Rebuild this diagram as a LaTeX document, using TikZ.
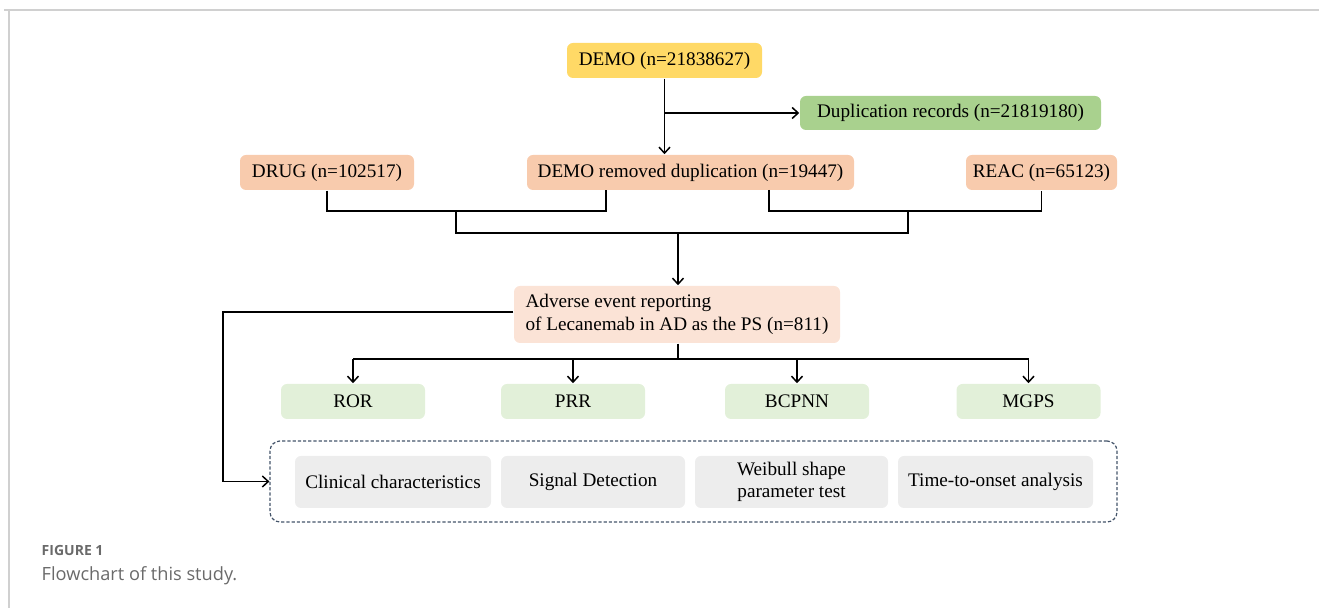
\documentclass[tikz,border=0pt]{standalone}
\usepackage{fontspec}
\setmainfont{Liberation Serif}
\newfontfamily\capfont{Open Sans}
\usetikzlibrary{positioning, arrows.meta, calc}

\definecolor{demoyellow}{HTML}{FFD966}
\definecolor{dupgreen}{HTML}{A9D18E}
\definecolor{srcpeach}{HTML}{F8CBAD}
\definecolor{aepeach}{HTML}{FBE3D6}
\definecolor{algogreen}{HTML}{E2F0D9}
\definecolor{toolgray}{HTML}{EDEDED}
\definecolor{dashblue}{HTML}{44546A}
\definecolor{framegray}{HTML}{D0D0D0}
\definecolor{capgray}{HTML}{6A6A6A}

\begin{document}
\begin{tikzpicture}[x=0.5pt,y=-0.5pt,>={Straight Barb[length=3pt,width=5.5pt]},
     line width=0.75pt,
     box/.style={rectangle, rounded corners=3pt, inner sep=0pt, align=center,
       font=\fontsize{9.6}{11.2}\selectfont},
     srcbox/.style={box, fill=srcpeach, minimum height=17.5pt},
     algobox/.style={box, fill=algogreen, minimum width=72pt, minimum height=17.5pt},
     toolbox/.style={box, fill=toolgray, minimum height=26pt}]

  \useasboundingbox (0,0) rectangle (1319,608);

  % frame of the figure
  \draw[framegray, line width=1pt] (4,10) -- (1319,10);
  \draw[framegray, line width=0.8pt] (9,10) -- (9,608);

  % data sources
  \node[box, fill=demoyellow, minimum width=97.5pt, minimum height=17.5pt] (demo) at (664.5,60.5) {DEMO (n=21838627)};
  \node[box, fill=dupgreen, minimum width=150.5pt, minimum height=17pt] (dup) at (950.5,113) {Duplication records (n=21819180)};
  \node[srcbox, minimum width=87pt] (drug) at (327,172.5) {DRUG (n=102517)};
  \node[srcbox, minimum width=163.5pt] (demorm) at (690.5,172.5) {DEMO removed duplication (n=19447)};
  \node[srcbox, minimum width=75.5pt] (reac) at (1041.5,172.5) {REAC (n=65123)};

  \node[box, fill=aepeach, minimum width=163pt, minimum height=28.5pt, align=left] (ae) at (677,314.5)
    {Adverse event reporting\\of Lecanemab in AD as the PS (n=811)};

  % signal algorithms
  \node[algobox] (ror) at (353,401.5) {ROR};
  \node[algobox] (prr) at (573,401.5) {PRR};
  \node[algobox] (bcpnn) at (797,401.5) {BCPNN};
  \node[algobox] (mgps) at (1028.5,401.5) {MGPS};

  % analyses
  \node[draw=dashblue, dash pattern=on 1.6pt off 1pt, line width=0.6pt, rounded corners=5pt,
    minimum width=423.5pt, minimum height=40.5pt, inner sep=0pt] (tools) at (693.5,481.5) {};
  \node[toolbox, minimum width=98pt] (clin) at (393,482) {Clinical characteristics};
  \node[toolbox, minimum width=92pt] (sig) at (593,482) {Signal Detection};
  \node[toolbox, minimum width=96.5pt] (weib) at (791.5,482) {Weibull shape\\parameter test};
  \node[toolbox, minimum width=97.5pt] (tto) at (995.5,482) {Time-to-onset analysis};

  % junctions
  \coordinate (j0) at (664.5,113);
  \coordinate (rmL) at (606,190);
  \coordinate (rmR) at (769,190);
  \coordinate (m1) at (456,211);
  \coordinate (m2) at (908,211);
  \coordinate (mc) at (678,233);
  \coordinate (sp) at (678,359);
  \coordinate (lp) at (223,312);

  \draw[->] (demo) -- (demorm.north -| demo);
  \draw[->] (j0) -- (dup.west);
  \draw (drug.south) |- (m1) -| (rmL);
  \draw (rmR) |- (m2) -| (reac.south);
  \draw (m1) |- (mc) -| (m2);
  \draw[->] (mc) -- (ae.north -| mc);
  \draw (ae.south -| sp) -- (sp);
  \draw (ror.north |- sp) -- (mgps.north |- sp);
  \foreach \n in {ror, prr, bcpnn, mgps}
    \draw[->] (\n.north |- sp) -- (\n.north);
  \draw[->] (ae.west |- lp) -- (lp) |- (tools.west);

  % caption
  \node[anchor=west, inner sep=0pt, text=capgray, font=\capfont\bfseries\fontsize{7}{8}\selectfont] (fig) at (41,551) {FIGURE 1};
  \node[anchor=west, inner sep=0pt, text=capgray, font=\capfont\fontsize{9.1}{11}\selectfont] (cap) at (41,576) {Flowchart of this study.};
\end{tikzpicture}
\end{document}
